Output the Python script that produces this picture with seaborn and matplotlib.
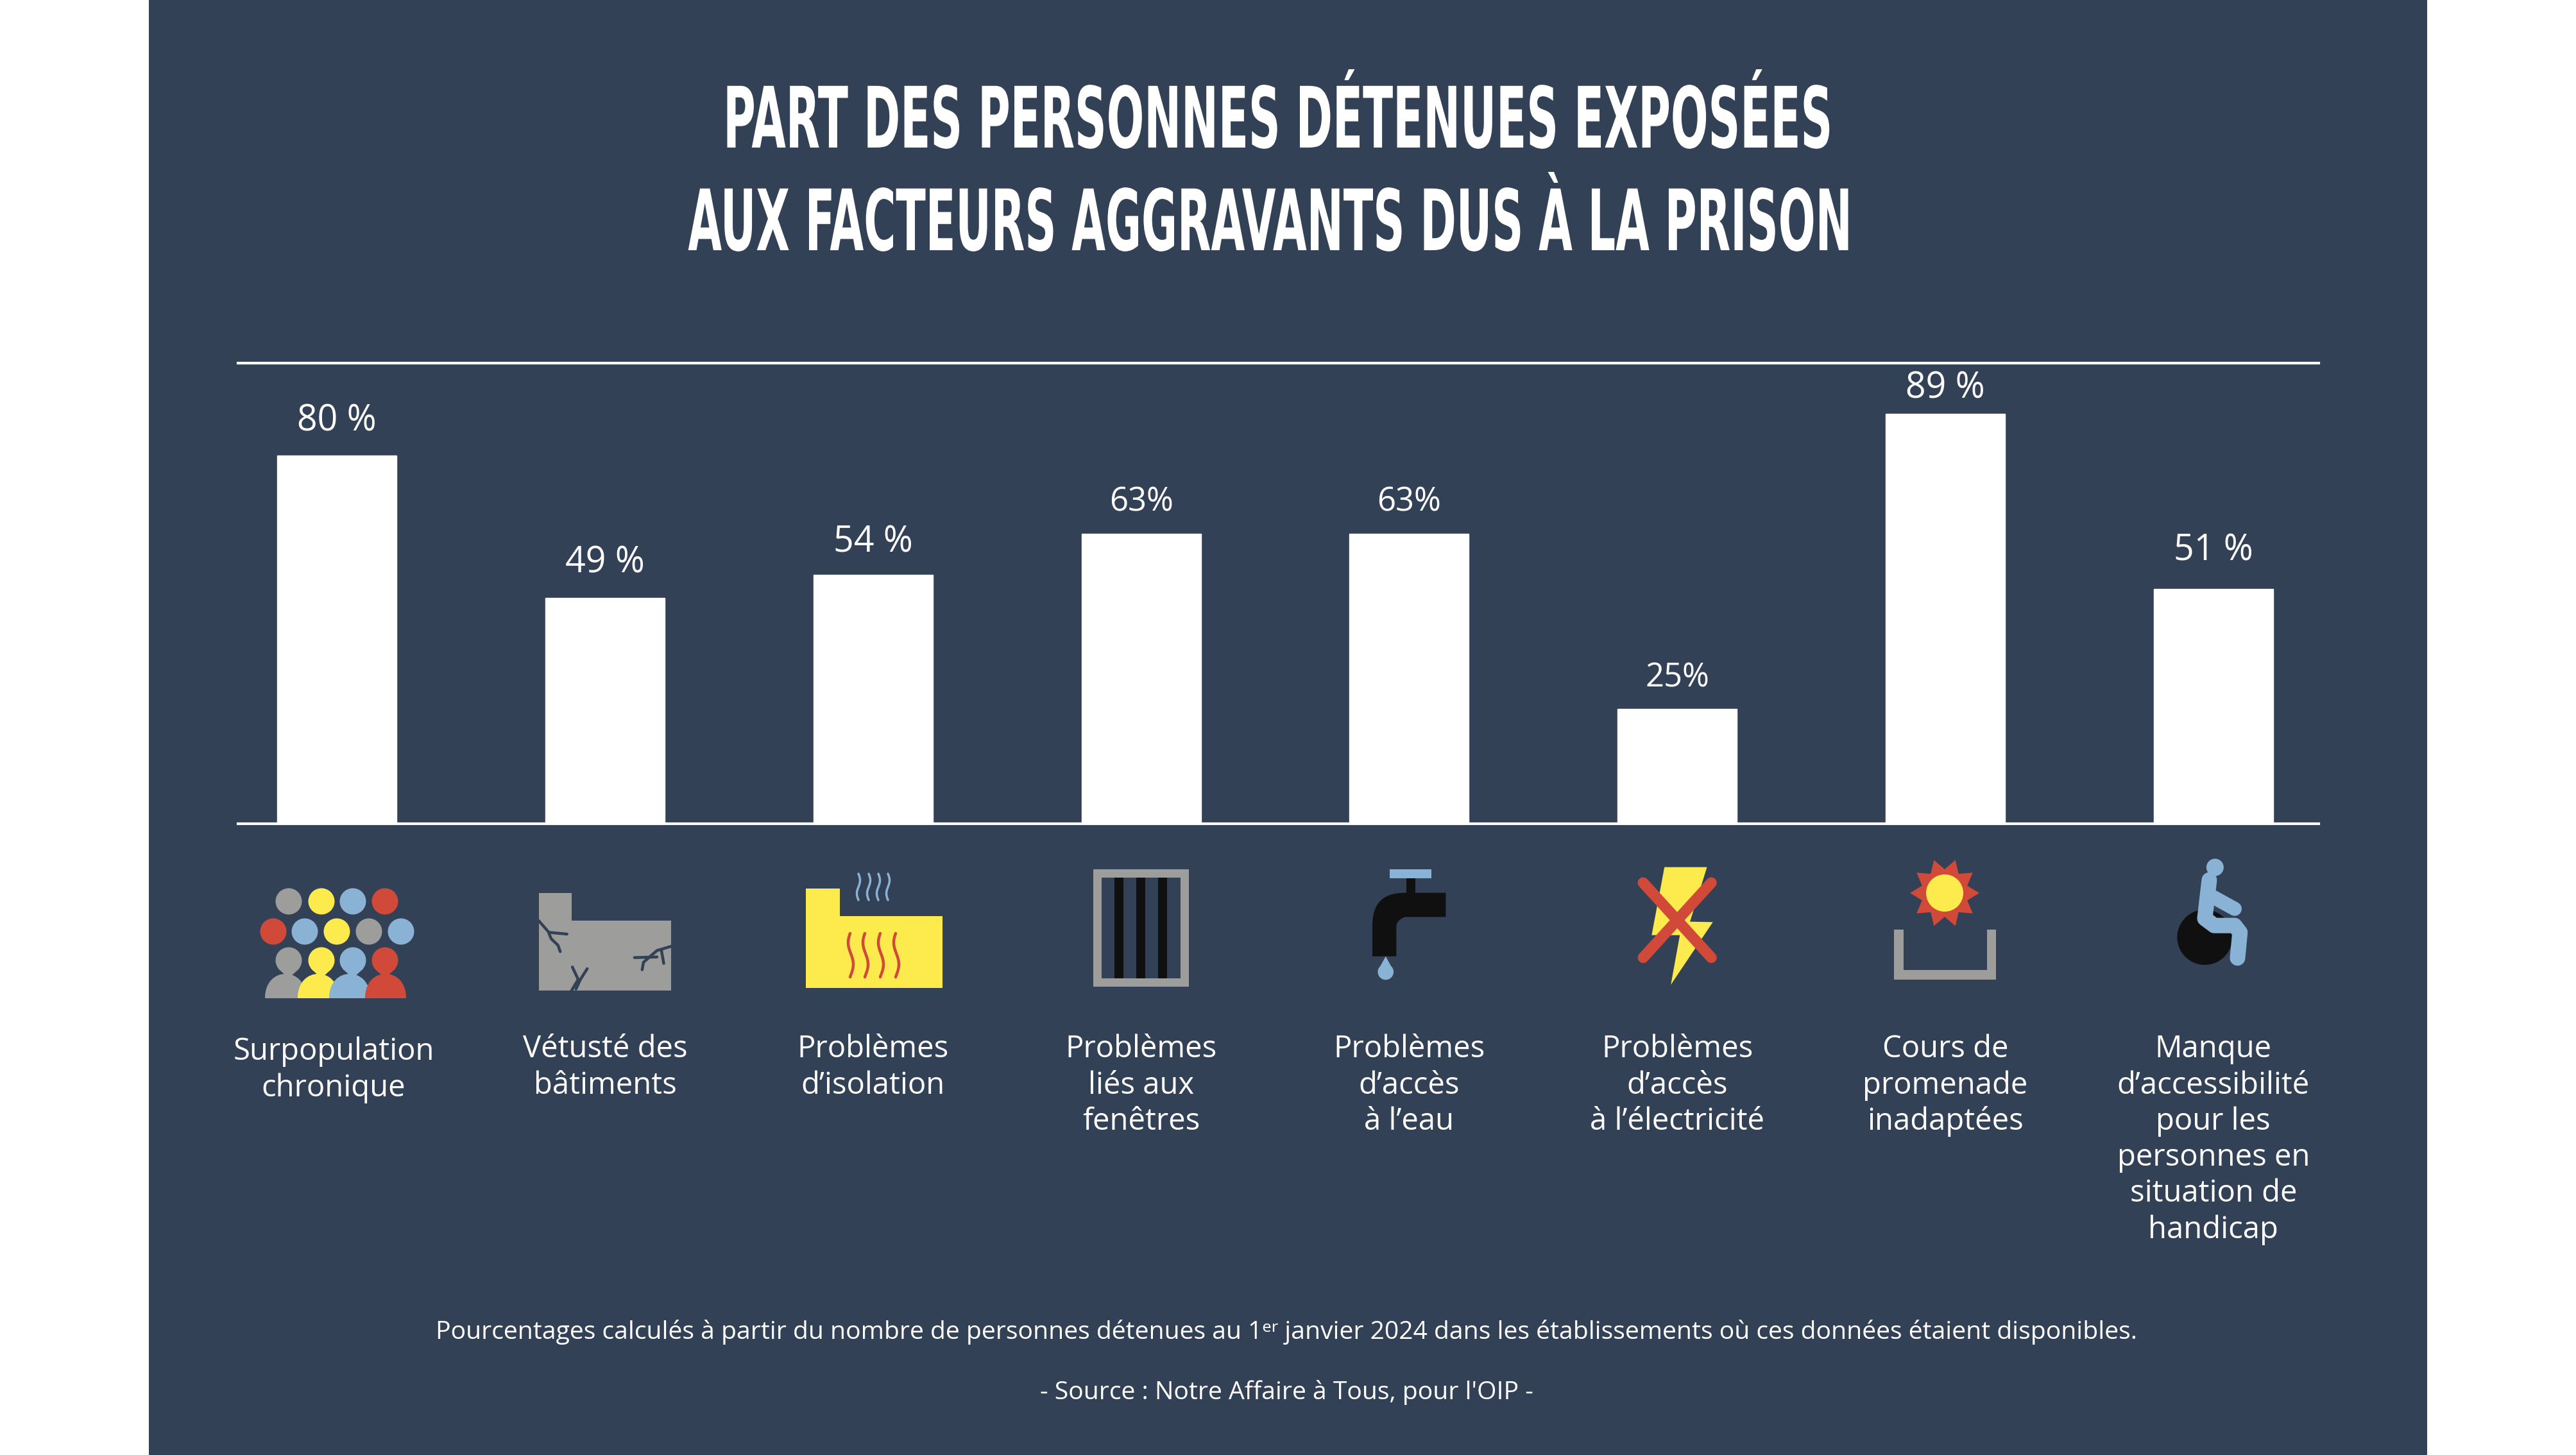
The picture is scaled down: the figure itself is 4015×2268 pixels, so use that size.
import numpy as np
import pandas as pd
import matplotlib
matplotlib.use("Agg")
import matplotlib.pyplot as plt
from matplotlib.patches import Circle, PathPatch, Polygon, Rectangle
from matplotlib.path import Path
from matplotlib.patheffects import AbstractPathEffect
from matplotlib.transforms import Affine2D, ScaledTranslation
import seaborn as sns

categories = [
    "Surpopulation\nchronique",
    "Vétusté des\nbâtiments",
    "Problèmes\nd’isolation",
    "Problèmes\nliés aux\nfenêtres",
    "Problèmes\nd’accès\nà l’eau",
    "Problèmes\nd’accès\nà l’électricité",
    "Cours de\npromenade\ninadaptées",
    "Manque\nd’accessibilité\npour les\npersonnes en\nsituation de\nhandicap",
]
values = [80, 49, 54, 63, 63, 25, 89, 51]
value_labels = ["80 %", "49 %", "54 %", "63%", "63%", "25%", "89 %", "51 %"]

title_lines = ["PART DES PERSONNES DÉTENUES EXPOSÉES", "AUX FACTEURS AGGRAVANTS DUS À LA PRISON"]
note = "Pourcentages calculés à partir du nombre de personnes détenues au 1ᵉʳ janvier 2024 dans les établissements où ces données étaient disponibles."
source = "- Source : Notre Affaire à Tous, pour l'OIP -"

BG = "#324155"
GREY = "#9d9d9b"
YELLOW = "#fdeb4d"
BLUE = "#8ab2d4"
RED = "#d14a39"
BLACK = "#101010"
W, H = 4016, 2268

sns.set_theme(style="white")
plt.rcParams["font.family"] = ["Open Sans", "Noto Sans", "DejaVu Sans"]


class Condense(AbstractPathEffect):
    # no condensed bold font here, so squeeze the glyphs around the text centre
    def __init__(self, cx, sx):
        super().__init__()
        self.cx, self.sx = cx, sx

    def draw_path(self, renderer, gc, tpath, affine, rgbFace=None):
        squeeze = Affine2D().translate(-self.cx, 0).scale(self.sx, 1).translate(self.cx, 0)
        renderer.draw_path(gc, tpath, affine + squeeze, rgbFace)


fig = plt.figure(figsize=(W / 100, H / 100), dpi=100, facecolor="white")

# layer in pixel coords for the panel, titles and icons
bg = fig.add_axes([0, 0, 1, 1], zorder=0)
bg.set_xlim(0, W)
bg.set_ylim(H, 0)
bg.axis("off")
bg.add_patch(Rectangle((232, 0), 3551, H, color=BG, lw=0))

left, right, top, bottom = 371, 3614, 566, 1284
ax = fig.add_axes([left / W, 1 - bottom / H, (right - left) / W, (bottom - top) / H], zorder=1)
ax.patch.set_visible(False)

df = pd.DataFrame({"cat": categories, "val": values})
sns.barplot(data=df, x="cat", y="val", color="white", saturation=1, width=0.445, ax=ax)
ax.set_xlim(-0.369, 7.393)
ax.set_ylim(0, 100)
ax.set_xlabel("")
ax.set_ylabel("")
ax.set_yticks([])
sns.despine(ax=ax, left=True, right=True, top=False)
ax.spines["top"].set_color("white")
ax.spines["bottom"].set_color("white")
ax.spines["top"].set_linewidth(3)
ax.spines["bottom"].set_linewidth(3)
ax.tick_params(axis="x", length=0, pad=236, labelsize=34, labelcolor="white")
for t in ax.get_xticklabels():
    t.set_va("top")
    t.set_linespacing(1.24)
first = ax.get_xticklabels()[0]
first.set_transform(first.get_transform() + ScaledTranslation(-5 / 100, -4 / 100, fig.dpi_scale_trans))

label_pad = [38, 39, 36, 35, 35, 34, 28, 42]
for bar, lab, pad in zip(ax.patches, value_labels, label_pad):
    ax.annotate(lab, (bar.get_x() + bar.get_width() / 2, bar.get_height()), xytext=(0, pad),
                textcoords="offset points", ha="center", va="center",
                color="white", fontsize=40 if " " in lab else 36.5, annotation_clip=False)

for line_txt, cx, base, sx in zip(title_lines, [1992, 1980], [230, 390], [0.523, 0.517]):
    txt = bg.text(cx, base, line_txt, color="white", ha="center", va="baseline", fontsize=95,
                  family="DejaVu Sans", fontweight="bold")
    txt.set_path_effects([Condense(cx, sx)])
bg.text(2005, 2077, note, color="white", ha="center", va="center", fontsize=28.2)
bg.text(2005, 2170, source, color="white", ha="center", va="center", fontsize=28.2)


def px(w):
    return w * 0.72


def line(xs, ys, color, w, cap="round"):
    bg.plot(xs, ys, color=color, lw=px(w), solid_capstyle=cap, solid_joinstyle="round")


# people
row1 = [(450, GREY), (501, YELLOW), (550, BLUE), (600, RED)]
row2 = [(426, RED), (475, BLUE), (525, YELLOW), (575, GREY), (625, BLUE)]
for x, c in row1:
    bg.add_patch(Circle((x, 1405), 20.5, color=c, lw=0))
for x, c in row2:
    bg.add_patch(Circle((x, 1452), 20.5, color=c, lw=0))
for (x, c), bx in zip(row1, [445, 496, 545, 601]):
    bg.add_patch(Circle((x, 1497), 20.5, color=c, lw=0))
    bg.add_patch(Polygon([(x - 16, 1510), (x + 16, 1510), (x, 1525)], color=c, lw=0))
    hw = 32
    verts = [(bx - hw, 1556), (bx - hw, 1530), (bx - 16, 1518), (bx, 1518),
             (bx + 16, 1518), (bx + hw, 1530), (bx + hw, 1556), (bx - hw, 1556)]
    codes = [Path.MOVETO, Path.CURVE4, Path.CURVE4, Path.CURVE4, Path.CURVE4, Path.CURVE4, Path.CURVE4, Path.CLOSEPOLY]
    bg.add_patch(PathPatch(Path(verts, codes), color=c, lw=0))


# building
def z1(pts):
    return [340 + np.array([p[0] for p in pts]) / 1.4255, 1300 + np.array([p[1] for p in pts]) / 3]


bg.add_patch(Polygon([(840, 1392), (891, 1392), (891, 1435), (1046, 1435), (1046, 1544), (840, 1544)], color=GREY, lw=0))
cracks = [
    [(712, 405), (735, 460), (775, 468)],
    [(735, 465), (740, 490), (755, 520), (760, 550)],
    [(1007, 525), (975, 545), (945, 600), (942, 635)],
    [(975, 575), (925, 578)],
    [(985, 545), (990, 605)],
    [(787, 622), (800, 680), (785, 733)],
    [(820, 630), (805, 680), (795, 725)],
]
for c in cracks:
    xs, ys = z1(c)
    line(xs, ys, BG, 4.5)

# insulation
bg.add_patch(Polygon([(1256, 1385), (1309, 1385), (1309, 1428), (1469, 1428), (1469, 1540), (1256, 1540)], color=YELLOW, lw=0))
for x in [1326, 1349, 1373, 1397]:
    yy = np.linspace(1455, 1523, 40)
    line(x + 4 * np.sin((yy - 1455) / 68 * 2 * np.pi + 3.4), yy, RED, 4.5)
for x in [1338, 1354, 1369, 1384]:
    yy = np.linspace(1362, 1403, 30)
    line(x + 2.5 * np.sin((yy - 1362) / 41 * 2 * np.pi), yy, BLUE, 3.5)

# window
bg.add_patch(Rectangle((1704, 1355), 149, 183, color=GREY, lw=0))
bg.add_patch(Rectangle((1717, 1368), 123, 157, color=BG, lw=0))
for x in [1744, 1778, 1812]:
    bg.add_patch(Rectangle((x - 7, 1368), 14, 157, color=BLACK, lw=0))


# tap
def z2(x, y):
    return (1440 + x / 1.206, 1300 + y / 3)


bg.add_patch(Rectangle((2166, 1355), 65, 14, color=BLUE, lw=0))
bg.add_patch(Rectangle((2192, 1369), 14, 24, color=BLACK, lw=0))
verts = [z2(981, 275), z2(981, 388), z2(905, 388), z2(888, 400), z2(888, 430), z2(888, 430), z2(888, 572),
         z2(843, 572), z2(843, 430), z2(843, 330), z2(860, 275), z2(905, 275), z2(981, 275)]
codes = [Path.MOVETO, Path.LINETO, Path.LINETO, Path.CURVE4, Path.CURVE4, Path.CURVE4, Path.LINETO,
         Path.LINETO, Path.LINETO, Path.CURVE4, Path.CURVE4, Path.CURVE4, Path.LINETO]
bg.add_patch(PathPatch(Path(verts, codes), color=BLACK, lw=0))
bg.add_patch(Polygon([z2(868, 572), z2(883, 640), z2(853, 640)], color=BLUE, lw=0))
bg.add_patch(Circle(z2(868, 645), 12.3, color=BLUE, lw=0))

# bolt
bolt = [(1392, 155), (1472, 155), (1440, 410), (1483, 412), (1404, 705), (1421, 473), (1368, 473)]
bg.add_patch(Polygon([z2(*p) for p in bolt], color=YELLOW, lw=0))
for a, b in [((1352, 228), (1480, 578)), ((1480, 228), (1352, 578))]:
    p, q = z2(*a), z2(*b)
    line([p[0], q[0]], [p[1], q[1]], RED, 17)

# sun
ang = np.deg2rad(18 + 18 * np.arange(20))
rad = np.where(np.arange(20) % 2 == 0, 54, 37)
bg.add_patch(Polygon(np.c_[3031 + rad * np.sin(ang), 1392 - rad * np.cos(ang)], color=RED, lw=0))
bg.add_patch(Circle((3031, 1392), 29, color=YELLOW, lw=0))
bg.add_patch(Polygon([(2952, 1449), (2967, 1449), (2967, 1512), (3097, 1512), (3097, 1449), (3111, 1449), (3111, 1527), (2952, 1527)], color=GREY, lw=0))


# wheelchair
def z3(x, y):
    return (2740 + x / 1.568, 1300 + y / 3)


bg.add_patch(Circle(z3(1092, 483), 43, color=BLACK, lw=0))
bg.add_patch(Circle(z3(1117, 156), 13.5, color=BLUE, lw=0))
body = [z3(1103, 215), z3(1092, 395), z3(1115, 428), z3(1165, 428), z3(1178, 460), z3(1172, 580)]
line([p[0] for p in body], [p[1] for p in body], BLUE, 24)
arm = [z3(1108, 290), z3(1165, 350)]
line([p[0] for p in arm], [p[1] for p in arm], BLUE, 22)

fig.savefig("out.png", dpi=100, facecolor="white")
